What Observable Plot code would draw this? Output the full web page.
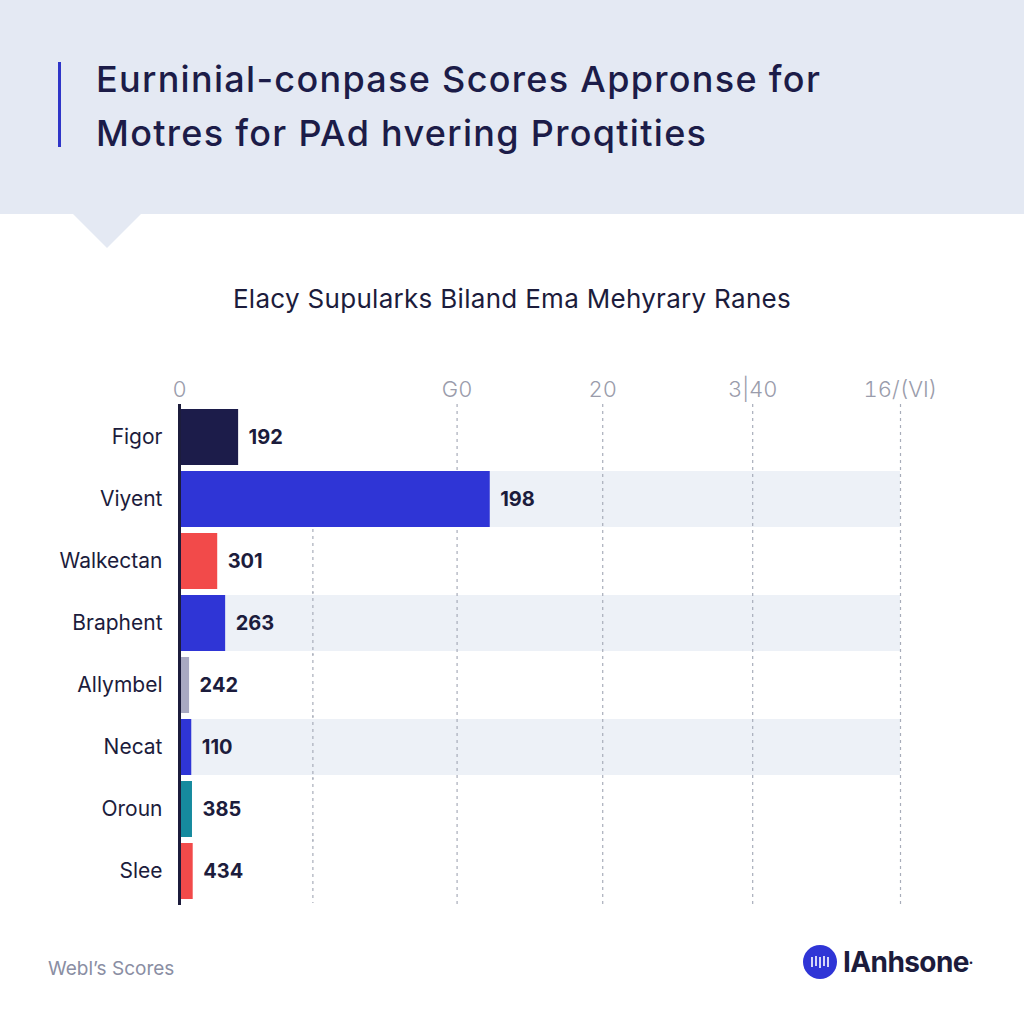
<!DOCTYPE html>
<html>
<head>
<meta charset="utf-8">
<script src="https://cdn.jsdelivr.net/npm/d3@7"></script>
<script src="https://cdn.jsdelivr.net/npm/@observablehq/plot@0.6"></script>
<style>
  html, body { margin: 0; padding: 0; background: #ffffff; }
  body { width: 1024px; height: 1024px; position: relative; overflow: hidden; font-family: "Inter", "Noto Sans", sans-serif; }
  #header { position: absolute; left: 0; top: 0; width: 1024px; height: 214px; background: #e4e9f3; }
  #pointer { position: absolute; left: 72px; top: 213px; width: 0; height: 0; border-left: 35px solid transparent; border-right: 35px solid transparent; border-top: 35px solid #e4e9f3; }
  #accent { position: absolute; left: 58px; top: 62px; width: 3px; height: 85px; background: #2f35c8; }
  #title { position: absolute; left: 96px; top: 52px; font-size: 36px; line-height: 54px; font-weight: 500; color: #1c1c48; letter-spacing: 1.3px; }
  #subtitle { position: absolute; left: 0; width: 1024px; top: 283px; text-align: center; font-size: 26px; color: #1c1c3c; letter-spacing: 0.3px; }
  #chart { position: absolute; left: 0; top: 360px; line-height: 0; }
  #source { position: absolute; left: 48px; top: 957px; font-size: 19px; color: #8a8ea3; }
  #logo { position: absolute; left: 803px; top: 945px; display: flex; align-items: center; }
  #logo .name { font-size: 28px; font-weight: 700; color: #1c1c3c; margin-left: 6px; letter-spacing: -0.6px; }
  #logo sup { font-size: 8px; color: #1c1c3c; }
</style>
</head>
<body>
<div id="header"></div>
<div id="pointer"></div>
<div id="accent"></div>
<div id="title">Eurninial-conpase Scores Appronse for<br>Motres for PAd hvering Proqtities</div>
<div id="subtitle">Elacy Supularks Biland Ema Mehyrary Ranes</div>
<div id="chart"></div>
<div id="source">Webl’s Scores</div>
<div id="logo">
  <svg width="34" height="34" viewBox="0 0 34 34">
    <circle cx="17" cy="17" r="17" fill="#2f35d6"/>
    <g stroke="#ffffff" stroke-width="1.6">
      <line x1="9" y1="12" x2="9" y2="22"/>
      <line x1="13" y1="11" x2="13" y2="21"/>
      <line x1="17" y1="12" x2="17" y2="23"/>
      <line x1="21" y1="11" x2="21" y2="21"/>
      <line x1="25" y1="12" x2="25" y2="22"/>
    </g>
  </svg>
  <span class="name">IAnhsone</span><sup>•</sup>
</div>
<script>
// Data
const categories = ["Figor", "Viyent", "Walkectan", "Braphent", "Allymbel", "Necat", "Oroun", "Slee"];
const barLengths = [8.2, 43.1, 5.3, 6.4, 1.4, 1.7, 1.8, 1.9];
const valueLabels = ["192", "198", "301", "263", "242", "110", "385", "434"];
const barColors = ["#1c1c4a", "#2f35d6", "#f24a4a", "#2f35d6", "#a9a9c2", "#2f35d6", "#168a9e", "#f24a4a"];
const bandedRows = ["Viyent", "Braphent", "Necat"];
const tickValues = [0, 38.5, 58.7, 79.5, 100];
const tickLabels = ["0", "G0", "20", "3|40", "16/(VI)"];
const gridValues = [38.5, 58.7, 79.5, 100];
const partialGridValue = 18.5;
const partialGridRows = ["Walkectan", "Braphent", "Allymbel", "Necat", "Oroun", "Slee"];
const xMax = 100;

const rows = categories.map((c, i) => ({name: c, value: barLengths[i], label: valueLabels[i], color: barColors[i]}));
const partialRows = partialGridRows.map(r => ({name: r, x: partialGridValue}));

const chart = Plot.plot({
  width: 1024,
  height: 551,
  marginLeft: 179,
  marginRight: 124,
  marginTop: 44,
  marginBottom: 6,
  style: {fontFamily: "Inter, 'Noto Sans', sans-serif", background: "transparent"},
  x: {domain: [0, xMax], axis: null, label: null},
  y: {domain: categories, paddingInner: 0.09, paddingOuter: 0.045, axis: null, label: null},
  marks: [
    Plot.barX(bandedRows, {y: d => d, x1: 0, x2: xMax, fill: "#edf1f7"}),
    Plot.ruleX(gridValues, {x: d => d, stroke: "#a8adba", strokeDasharray: "3,4", strokeWidth: 1.2}),
    Plot.tickX(partialRows, {x: "x", y: "name", stroke: "#a8adba", strokeDasharray: "3,4", strokeWidth: 1.2, insetTop: -4, insetBottom: -4}),
    Plot.barX(rows, {y: "name", x: "value", fill: d => d.color}),
    Plot.ruleX([0], {stroke: "#1c1c3c", strokeWidth: 3}),
    Plot.text(rows, {y: "name", x: "value", text: "label", dx: 10, textAnchor: "start", fontSize: 20, fontWeight: 700, fill: "#1c1c3c"}),
    Plot.axisY({tickSize: 0, tickPadding: 17, fontSize: 21, color: "#1c1c3c", label: null}),
    Plot.axisX({anchor: "top", ticks: tickValues, tickFormat: (d, i) => tickLabels[i], tickSize: 0, tickPadding: 8, fontSize: 22, fontWeight: 300, color: "#9a9cab", label: null})
  ]
});
document.getElementById("chart").appendChild(chart);
</script>
</body>
</html>
